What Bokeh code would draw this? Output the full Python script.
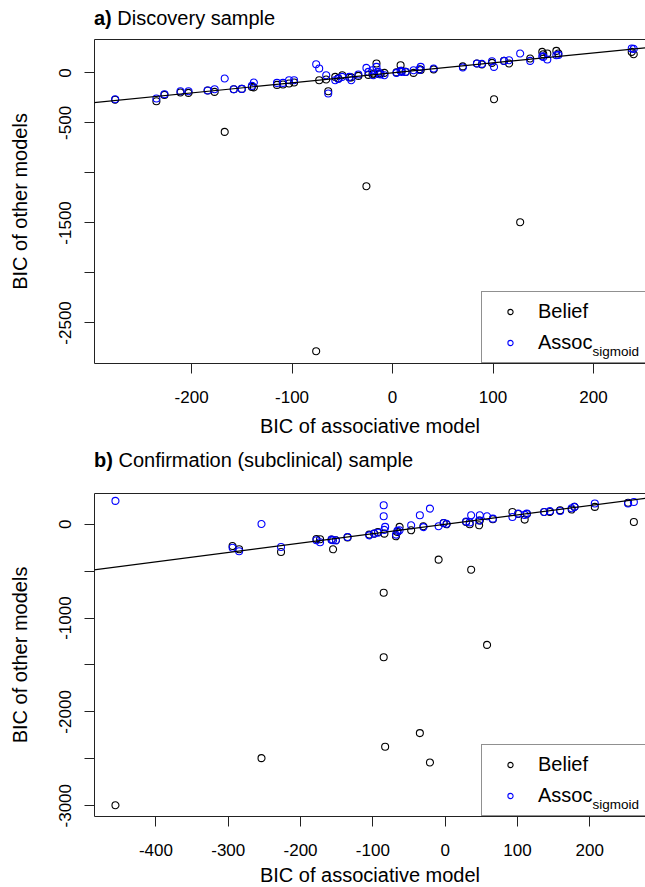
from bokeh.plotting import figure
from bokeh.models import (Range1d, FixedTicker, LinearAxis, Slope, Legend,
                          LegendItem, Div)
from bokeh.core.properties import value
from bokeh.layouts import column
from bokeh.embed import file_html
from bokeh.resources import INLINE

FONT = "Liberation Sans"

# ---------------- Panel a: Discovery sample ----------------
a_x = [-276, -235, -227, -211, -203, -184, -177, -167, -158, -150,
       -140, -138, -115, -109, -103, -98, -76, -73, -66, -64,
       -57, -54, -50, -43, -41, -34, -26, -24, -20, -19,
       -16, -14, -12, -8, 4, 8, 9, 13, 21, 27,
       28, 41, 70, 84, 89, 99, 101, 111, 116, 127,
       137, 149, 150, 154, 163, 165, 238, 240]
a_belief = [-268, -283, -220, -196, -200, -176, -190, -590, -163, -160,
            -140, -145, -120, -116, -106, -96, -2783, -73, -66, -183,
            -40, -55, -23, -45, -45, -30, -1133, -20, -15, -6,
            94, -10, -6, 0, 5, 77, 20, 10, 0, 37,
            30, 35, 65, 94, 84, 100, -263, 120, 94, -1493,
            144, 210, 187, 194, 220, 194, 210, 187]
a_assoc = [-263, -256, -213, -183, -183, -176, -163, -56, -163, -160,
           -130, -96, -100, -100, -73, -73, 87, 44, -23, -206,
           -73, -60, -40, -40, -73, -16, 50, 10, 27, -23,
           60, 10, -15, -23, 0, 20, 10, 10, 27, 30,
           60, 44, 54, 94, 90, 117, 60, 120, 127, 194,
           120, 167, 160, 134, 177, 180, 244, 240]

# ---------------- Panel b: Confirmation (subclinical) sample ----------------
b_x = [-456, -294, -285, -254, -227, -178, -173, -157, -155, -151,
       -135, -105, -98, -93, -85, -85, -83, -84, -68, -66,
       -63, -47, -35, -30, -21, -9, -2, 2, 29, 34,
       36, 47, 48, 58, 66, 93, 101, 110, 113, 137,
       145, 159, 175, 179, 207, 253, 261]
b_belief = [-2995, -232, -267, -2493, -296, -157, -160, -164, -267, -171,
            -140, -110, -100, -82, -730, -1418, -2372, -100, -128, -82,
            -28, -64, -2226, -21, -2539, -377, 14, 0, 25, 0,
            -484, -11, 40, -1286, 53, 131, 110, 50, 110, 131,
            131, 150, 157, 185, 185, 230, 25]
b_assoc = [249, -250, -288, 3, -242, -171, -192, -164, -171, -171,
           -135, -118, -100, -90, 203, 85, -28, -60, -110, -70,
           -64, -11, 96, -30, 167, -21, 14, 5, 30, 20,
           96, 40, 96, 85, 60, 78, 114, 100, 114, 131,
           140, 142, 170, 185, 221, 221, 238]

a_xticks = [-200, -100, 0, 100, 200]
a_yticks = [-2500, -2000, -1500, -1000, -500, 0]
a_ylabels = [-2500, -1500, -500, 0]
b_xticks = [-400, -300, -200, -100, 0, 100, 200]
b_yticks = [-3000, -2500, -2000, -1500, -1000, -500, 0]
b_ylabels = [-3000, -2000, -1000, 0]

LINE = "#222222"
FRAME_W = 551
LEG_X = 387          # legend left edge, px from frame left
SUB_X = 498          # subscript start, px from frame left
SUB_Y = 12.5         # subscript centre, px above frame bottom


def title_div(tag, title, pad_top):
    html = ('<div style="font-family:\'Liberation Sans\',Arial,sans-serif;font-size:20px;'
            'line-height:22px;color:black;white-space:nowrap;'
            f'padding:{pad_top}px 0 0 94px;margin:0">'
            f'<b>{tag}</b> {title}</div>')
    return Div(text=html, width=645, height=31, margin=0)


def make_panel(xs, yb, ya, xr, yr, xticks, yticks, ylabels,
               fh, top, bottom, xlab_standoff):
    p = figure(frame_width=FRAME_W, frame_height=fh, output_backend="svg",
               toolbar_location=None, x_range=Range1d(*xr), y_range=Range1d(*yr),
               min_border_left=94, min_border_right=0,
               min_border_top=top, min_border_bottom=bottom)
    p.outline_line_color = None
    p.grid.visible = False
    p.background_fill_color = "white"
    p.border_fill_color = "white"

    for ax in (p.xaxis[0], p.yaxis[0]):
        ax.axis_line_color = LINE
        ax.major_tick_line_color = LINE
        ax.major_tick_out = 10
        ax.major_tick_in = 0
        ax.minor_tick_out = 0
        ax.minor_tick_in = 0
        ax.major_label_text_font = FONT
        ax.major_label_text_font_size = "17px"
        ax.major_label_text_color = "black"
        ax.axis_label_text_font = FONT
        ax.axis_label_text_font_size = "20px"
        ax.axis_label_text_font_style = "normal"
        ax.axis_label_text_color = "black"

    p.xaxis[0].ticker = FixedTicker(ticks=xticks)
    p.xaxis[0].major_label_overrides = {v: str(v) for v in xticks}
    p.xaxis[0].axis_label = "BIC of associative model"
    p.xaxis[0].major_label_standoff = 17
    p.xaxis[0].axis_label_standoff = xlab_standoff

    p.yaxis[0].ticker = FixedTicker(ticks=yticks)
    p.yaxis[0].major_label_overrides = {v: (str(v) if v in ylabels else "") for v in yticks}
    p.yaxis[0].major_label_orientation = "vertical"
    p.yaxis[0].major_label_standoff = 13
    p.yaxis[0].axis_label = "BIC of other models"
    p.yaxis[0].axis_label_standoff = 26

    top_axis = LinearAxis(ticker=FixedTicker(ticks=[]), axis_line_color=LINE,
                          major_tick_out=0, major_tick_in=0,
                          minor_tick_out=0, minor_tick_in=0)
    p.add_layout(top_axis, "above")

    p.add_layout(Slope(gradient=1, y_intercept=0, line_color="black", line_width=1.2))

    rb = p.scatter(xs, yb, marker="circle", size=7, fill_color=None,
                   line_color="black", line_width=1.1)
    ra = p.scatter(xs, ya, marker="circle", size=7, fill_color=None,
                   line_color="#0000ff", line_width=1.1)

    legend = Legend(items=[LegendItem(label="Belief", renderers=[rb]),
                           LegendItem(label="Assoc", renderers=[ra])],
                    location=(LEG_X, 0), margin=0, padding=8, spacing=8,
                    glyph_width=40, glyph_height=13, label_height=18,
                    label_width=130, label_standoff=8,
                    label_text_font=FONT, label_text_font_size="20px",
                    label_text_color="black",
                    border_line_color=LINE, border_line_width=1,
                    background_fill_color="white", background_fill_alpha=0)
    p.add_layout(legend)

    # subscript of the legend label "Assoc_sigmoid", placed relative to the legend box
    sx = xr[0] + SUB_X * (xr[1] - xr[0]) / FRAME_W
    sy = yr[0] + SUB_Y * (yr[1] - yr[0]) / fh
    sub = p.text(x=[sx], y=[sy], text=["sigmoid"], text_font=value(FONT),
                 text_font_size="13.5px", text_baseline="middle",
                 text_align="left", text_color="black")
    sub.level = "overlay"
    return p


pa = make_panel(a_x, a_belief, a_assoc,
                (-296.6, 251.7), (-2906, 334), a_xticks, a_yticks, a_ylabels,
                fh=324, top=8, bottom=85, xlab_standoff=9)
pb = make_panel(b_x, b_belief, b_assoc,
                (-485, 277.1), (-3115, 328), b_xticks, b_yticks, b_ylabels,
                fh=323, top=14, bottom=69, xlab_standoff=5)

layout = column(title_div("a)", "Discovery sample", 7), pa,
                title_div("b)", "Confirmation (subclinical) sample", 1), pb)
open("out.html", "w").write(file_html(layout, INLINE))
